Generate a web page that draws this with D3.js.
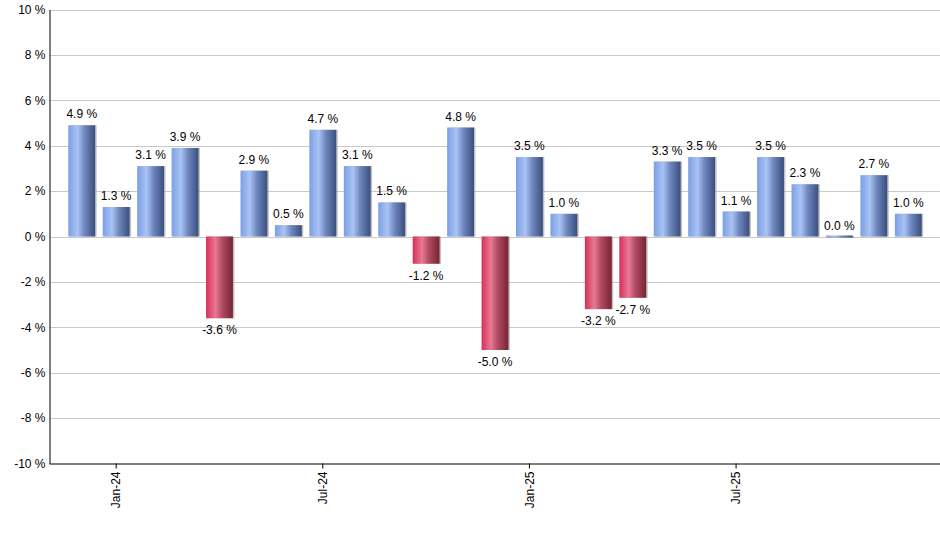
<!DOCTYPE html>
<html>
<head>
<meta charset="utf-8">
<script src="https://cdn.jsdelivr.net/npm/d3@7"></script>
<style>
  body { margin: 0; background: #fff; }
  svg text { font-family: "Liberation Sans", Arial, sans-serif; font-size: 12px; fill: #000; }
</style>
</head>
<body>
<div id="chart"></div>
<script>
// monthly returns, Dec-23 .. Dec-25
const months = ["Dec-23", "Jan-24", "Feb-24", "Mar-24", "Apr-24", "May-24", "Jun-24", "Jul-24",
  "Aug-24", "Sep-24", "Oct-24", "Nov-24", "Dec-24", "Jan-25", "Feb-25", "Mar-25", "Apr-25",
  "May-25", "Jun-25", "Jul-25", "Aug-25", "Sep-25", "Oct-25", "Nov-25", "Dec-25"];
const values = [4.9, 1.3, 3.1, 3.9, -3.6, 2.9, 0.5, 4.7, 3.1, 1.5, -1.2, 4.8, -5.0, 3.5, 1.0,
  -3.2, -2.7, 3.3, 3.5, 1.1, 3.5, 2.3, 0.0, 2.7, 1.0];
const tickMonths = ["Jan-24", "Jul-24", "Jan-25", "Jul-25"];
const yTicks = [-10, -8, -6, -4, -2, 0, 2, 4, 6, 8, 10];

const width = 940, height = 550;
const mLeft = 49.5, mRight = 940, mTop = 9.5, mBottom = 463.5;

const svg = d3.select("#chart").append("svg")
  .attr("width", width).attr("height", height);

const defs = svg.append("defs");
function gradient(id, stops) {
  const g = defs.append("linearGradient").attr("id", id)
    .attr("x1", "0%").attr("x2", "100%").attr("y1", "0%").attr("y2", "0%");
  stops.forEach(s => g.append("stop").attr("offset", s[0]).attr("stop-color", s[1]));
}
gradient("blueGrad", [["0%", "#7c9fe4"], ["35%", "#a9c3f5"], ["60%", "#7088bf"], ["100%", "#3b4f7e"]]);
gradient("redGrad", [["0%", "#d82e58"], ["35%", "#e77a93"], ["60%", "#b24a63"], ["100%", "#772434"]]);

const x = d3.scaleBand().domain(months).range([64.5, 925.5]).paddingInner(0.22).paddingOuter(0.11);
const y = d3.scaleLinear().domain([-10, 10]).range([mBottom, mTop]);

// grid
svg.append("g").selectAll("line").data(yTicks.filter(d => d !== -10)).join("line")
  .attr("x1", mLeft).attr("x2", mRight)
  .attr("y1", d => Math.round(y(d)) + 0.5).attr("y2", d => Math.round(y(d)) + 0.5)
  .attr("stroke", "#c8c8c8").attr("stroke-width", 1);

// bars with slight shadow
const bars = svg.append("g");
bars.selectAll("rect.shadow").data(values).join("rect")
  .attr("class", "shadow")
  .attr("x", (d, i) => x(months[i]) + 1.5)
  .attr("y", d => Math.min(y(d), y(0)))
  .attr("width", x.bandwidth())
  .attr("height", d => Math.max(Math.abs(y(d) - y(0)), 1.5))
  .attr("fill", "#9a9a9a").attr("opacity", 0.6);
bars.selectAll("rect.bar").data(values).join("rect")
  .attr("class", "bar")
  .attr("x", (d, i) => x(months[i]))
  .attr("y", d => Math.min(y(d), y(0)) - (d === 0 ? 1 : 0))
  .attr("width", x.bandwidth())
  .attr("height", d => Math.max(Math.abs(y(d) - y(0)), 2))
  .attr("fill", d => d < 0 ? "url(#redGrad)" : "url(#blueGrad)");

// value labels
svg.append("g").selectAll("text").data(values).join("text")
  .attr("x", (d, i) => x(months[i]) + x.bandwidth() / 2)
  .attr("y", d => d < 0 ? y(d) + 16 : y(d) - 7)
  .attr("text-anchor", "middle")
  .attr("fill", "#111")
  .text(d => d.toFixed(1) + " %");

// axes
const yAxis = svg.append("g").attr("transform", `translate(${mLeft},0)`)
  .call(d3.axisLeft(y).tickValues(yTicks).tickSize(0).tickPadding(4).tickFormat(d => d + " %"));
yAxis.select(".domain").attr("stroke", "#000");
yAxis.selectAll("text").style("font-size", "12px").style("font-family", "Liberation Sans, Arial, sans-serif");

const xAxis = svg.append("g").attr("transform", `translate(0,${mBottom})`)
  .call(d3.axisBottom(x).tickValues(tickMonths).tickSize(5).tickSizeOuter(0));
xAxis.select(".domain").attr("d", `M${mLeft},0.5H${mRight}`).attr("stroke", "#000");
xAxis.selectAll(".tick line").attr("stroke", "#000");
xAxis.selectAll("text")
  .attr("transform", "rotate(-90)")
  .attr("x", -8).attr("y", 0).attr("dy", "0.35em")
  .attr("text-anchor", "end")
  .style("font-size", "12px").style("font-family", "Liberation Sans, Arial, sans-serif");
</script>
</body>
</html>
